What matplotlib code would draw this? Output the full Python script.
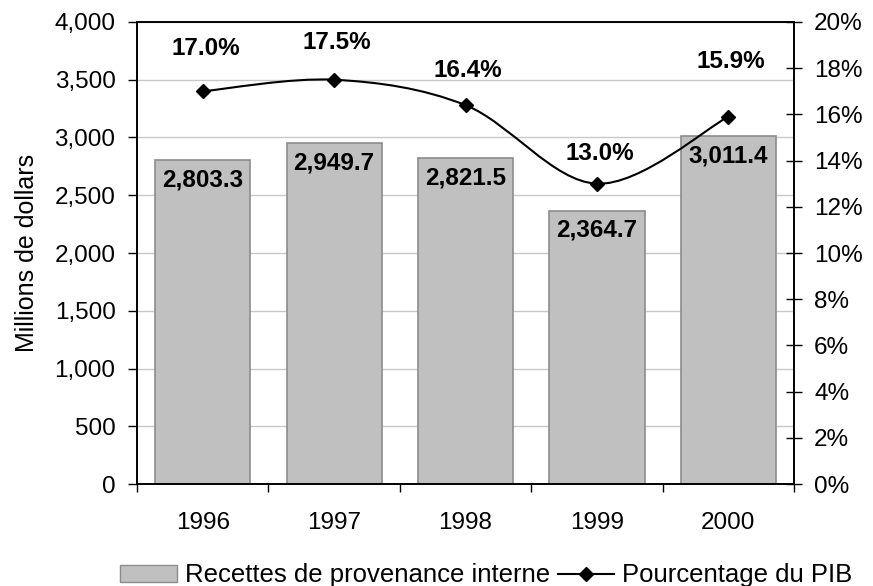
import numpy as np
import matplotlib
matplotlib.use("Agg")
from matplotlib import pyplot as plt
from matplotlib.path import Path
from matplotlib.patches import PathPatch, Patch
from matplotlib.lines import Line2D
from matplotlib.ticker import FuncFormatter, MultipleLocator

plt.rcParams['font.family'] = ['Liberation Sans', 'DejaVu Sans']

years = ['1996', '1997', '1998', '1999', '2000']
recettes = [2803.3, 2949.7, 2821.5, 2364.7, 3011.4]
pct_pib = [17.0, 17.5, 16.4, 13.0, 15.9]

# vertical offset (points) of each percentage label above its marker
pct_label_dy = [31, 27, 25, 22, 40]

fs = 17.5

fig = plt.figure(figsize=(8.73, 5.86), dpi=100)
ax = fig.add_axes([0.157, 0.174, 0.7525, 0.7885])
ax2 = ax.twinx()

x = np.arange(len(years))
ax.bar(x, recettes, width=0.725, color='#c0c0c0', edgecolor='#8c8c8c',
       linewidth=1.2, zorder=2)
ax.set_xlim(-0.5, 4.5)
ax.set_ylim(0, 4000)
ax.yaxis.set_major_locator(MultipleLocator(500))
ax.yaxis.set_major_formatter(FuncFormatter(lambda v, p: f'{v:,.0f}'))
ax.grid(axis='y', color='#c8c8c8', linewidth=1.0, zorder=0)
ax.set_axisbelow(True)
ax.set_ylabel('Millions de dollars', fontsize=18, labelpad=11)

ax.set_xticks(x)
ax.set_xticklabels(years, fontsize=fs)
ax.tick_params(axis='x', length=0, pad=20)
ax.set_xticks(np.arange(-0.5, 5.0, 1.0), minor=True)
ax.tick_params(axis='x', which='minor', length=6, width=1, direction='out')
ax.tick_params(axis='y', labelsize=fs, length=6.5, width=1, direction='out', pad=9)

for xi, v in zip(x, recettes):
    ax.annotate(f'{v:,.1f}', (xi, v), xytext=(0, -14), textcoords='offset points',
                ha='center', va='center', fontsize=fs, fontweight='bold', zorder=4)

ax2.set_ylim(0, 20)
ax2.yaxis.set_major_locator(MultipleLocator(2))
ax2.yaxis.set_major_formatter(FuncFormatter(lambda v, p: f'{v:.0f}%'))
ax2.tick_params(axis='y', labelsize=fs, length=11, width=1, direction='inout', pad=9)

for sp in list(ax.spines.values()) + list(ax2.spines.values()):
    sp.set_linewidth(1.2)
    sp.set_color('black')

# smoothed line through the points (Catmull-Rom as cubic Bezier segments)
px = x.astype(float)
py = np.array(pct_pib, dtype=float)
verts = [(px[0], py[0])]
codes = [Path.MOVETO]
n = len(px)
for i in range(n - 1):
    p0 = (px[max(i - 1, 0)], py[max(i - 1, 0)])
    p1 = (px[i], py[i])
    p2 = (px[i + 1], py[i + 1])
    p3 = (px[min(i + 2, n - 1)], py[min(i + 2, n - 1)])
    c1 = (p1[0] + (p2[0] - p0[0]) / 6, p1[1] + (p2[1] - p0[1]) / 6)
    c2 = (p2[0] - (p3[0] - p1[0]) / 6, p2[1] - (p3[1] - p1[1]) / 6)
    verts += [c1, c2, p2]
    codes += [Path.CURVE4, Path.CURVE4, Path.CURVE4]
ax2.add_patch(PathPatch(Path(verts, codes), facecolor='none', edgecolor='black',
                        linewidth=1.5, zorder=3))
ax2.plot(px, py, linestyle='none', marker='D', markersize=7, color='black', zorder=4)

for xi, v, dy in zip(px, pct_pib, pct_label_dy):
    ax2.annotate(f'{v:.1f}%', (xi, v), xytext=(2, dy), textcoords='offset points',
                 ha='center', va='center', fontsize=fs, fontweight='bold')

handles = [Patch(facecolor='#c0c0c0', edgecolor='#8c8c8c', linewidth=1.0),
           Line2D([], [], color='black', linewidth=1.5, marker='D', markersize=7,
                  markerfacecolor='black', markeredgecolor='black')]
fig.legend(handles, ['Recettes de provenance interne', 'Pourcentage du PIB'],
           loc='center', bbox_to_anchor=(0.557, 0.018), ncol=2, frameon=False,
           fontsize=18.5, handlelength=2.2, handleheight=0.6, handletextpad=0.3,
           columnspacing=0.3, borderpad=0, numpoints=1)

fig.savefig('out.png', dpi=100)
